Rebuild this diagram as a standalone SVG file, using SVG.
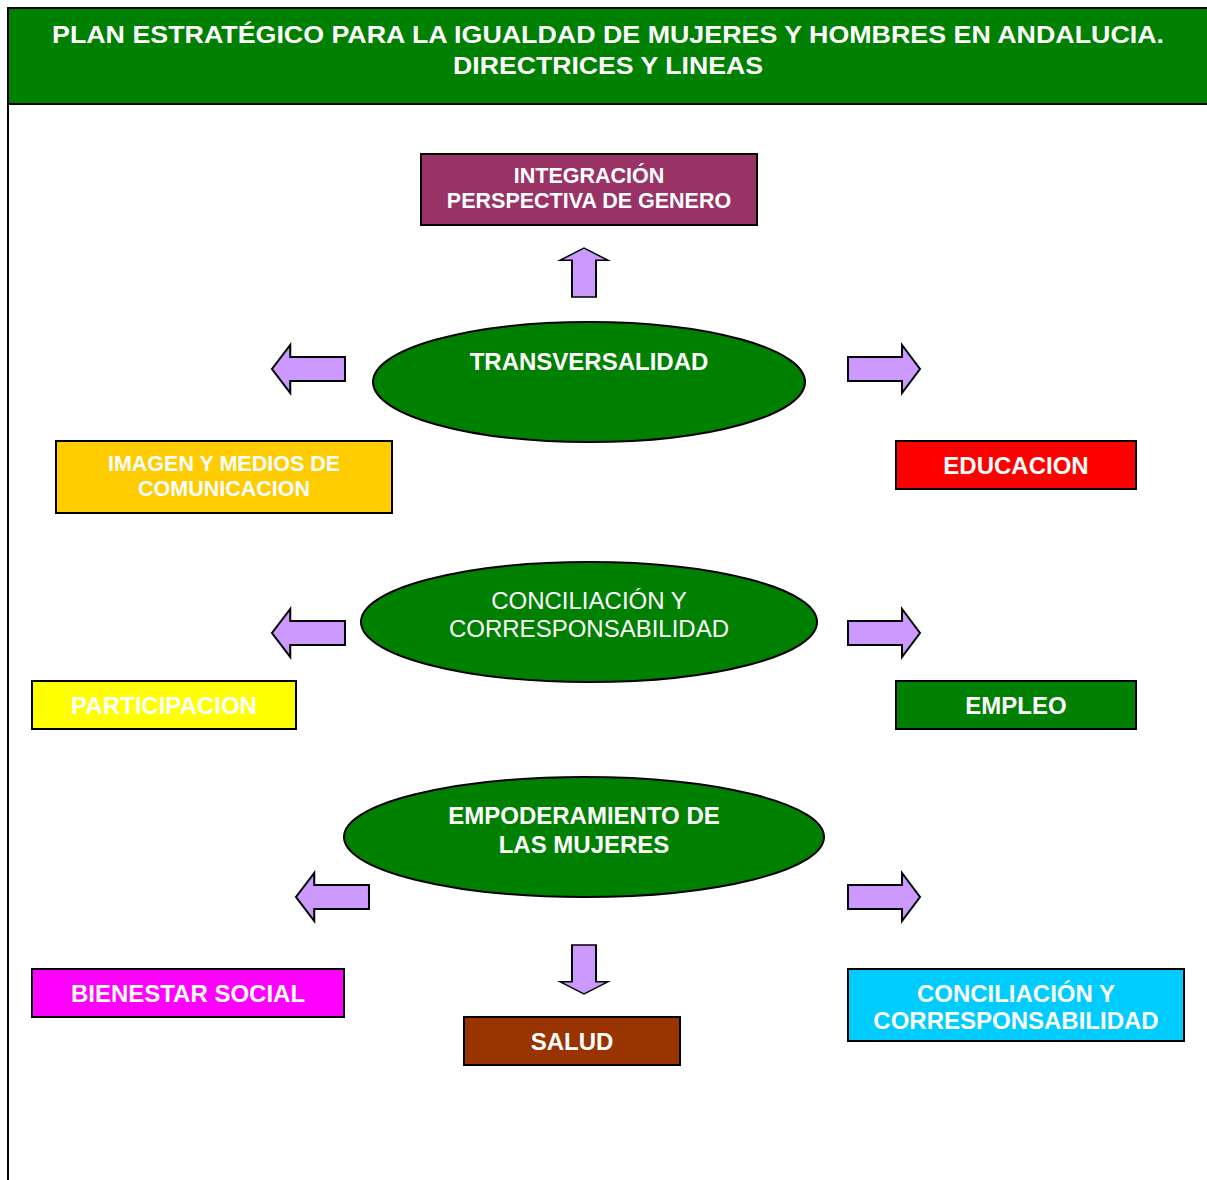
<svg xmlns="http://www.w3.org/2000/svg" width="1207" height="1180" viewBox="0 0 1207 1180">
<defs>
<style>
text{font-family:"Liberation Sans",Arial,sans-serif;fill:#fff;text-anchor:middle}
.b{font-weight:bold}
.box{stroke:#000;stroke-width:2}
.ell{fill:#008000;stroke:#000;stroke-width:2}
.arr{fill:#CC99FF;stroke:#000;stroke-width:2;stroke-linejoin:miter}
</style>
<path id="arrR" d="M0,-12 H54 V-24 L72,0 L54,24 V12 H0 Z"/>
</defs>
<rect width="1207" height="1180" fill="#fff"/>
<g id="header">
<rect x="8" y="8" width="1200" height="96" fill="#008000" stroke="#000" stroke-width="2"/>
<line x1="8" y1="104" x2="8" y2="1180" stroke="#000" stroke-width="2"/>
<text class="b" x="608" y="43" font-size="24" textLength="1112" lengthAdjust="spacingAndGlyphs">PLAN ESTRATÉGICO PARA LA IGUALDAD DE MUJERES Y HOMBRES EN ANDALUCIA.</text>
<text class="b" x="608" y="74" font-size="24" textLength="310" lengthAdjust="spacingAndGlyphs">DIRECTRICES Y LINEAS</text>
</g>
<g id="connectors">
<use href="#arrR" class="arr" transform="translate(584,297) rotate(-90) scale(0.68,1)"/>
<use href="#arrR" class="arr" transform="translate(345,369) rotate(180) scale(1.014,1)"/>
<use href="#arrR" class="arr" transform="translate(848,369)"/>
<use href="#arrR" class="arr" transform="translate(345,633) rotate(180) scale(1.014,1)"/>
<use href="#arrR" class="arr" transform="translate(848,633)"/>
<use href="#arrR" class="arr" transform="translate(369,897) rotate(180) scale(1.014,1)"/>
<use href="#arrR" class="arr" transform="translate(848,897)"/>
<use href="#arrR" class="arr" transform="translate(584,945) rotate(90) scale(0.68,1)"/>
</g>
<g id="n-integracion">
<rect class="box" x="421" y="154" width="336" height="71" fill="#993366"/>
<text class="b" x="589" y="183" font-size="21.5">INTEGRACIÓN</text>
<text class="b" x="589" y="208" font-size="21.5">PERSPECTIVA DE GENERO</text>
</g>
<g id="n-transversalidad">
<ellipse class="ell" cx="589" cy="382" rx="216" ry="60"/>
<text class="b" x="589" y="370" font-size="24">TRANSVERSALIDAD</text>
</g>
<g id="n-imagen">
<rect class="box" x="56" y="441" width="336" height="72" fill="#FFCC00"/>
<text class="b" x="224" y="471" font-size="21.5">IMAGEN Y MEDIOS DE</text>
<text class="b" x="224" y="496" font-size="21.5">COMUNICACION</text>
</g>
<g id="n-educacion">
<rect class="box" x="896" y="441" width="240" height="48" fill="#FF0000"/>
<text class="b" x="1016" y="474" font-size="24">EDUCACION</text>
</g>
<g id="n-conciliacion">
<ellipse class="ell" cx="589" cy="622" rx="228" ry="60"/>
<text x="589" y="609" font-size="24">CONCILIACIÓN Y</text>
<text x="589" y="637" font-size="24">CORRESPONSABILIDAD</text>
</g>
<g id="n-participacion">
<rect class="box" x="32" y="681" width="264" height="48" fill="#FFFF00"/>
<text class="b" x="164" y="714" font-size="24">PARTICIPACION</text>
</g>
<g id="n-empleo">
<rect class="box" x="896" y="681" width="240" height="48" fill="#008000"/>
<text class="b" x="1016" y="714" font-size="24">EMPLEO</text>
</g>
<g id="n-empoderamiento">
<ellipse class="ell" cx="584" cy="837" rx="240" ry="60"/>
<text class="b" x="584" y="824" font-size="24">EMPODERAMIENTO DE</text>
<text class="b" x="584" y="853" font-size="24">LAS MUJERES</text>
</g>
<g id="n-bienestar">
<rect class="box" x="32" y="969" width="312" height="48" fill="#FF00FF"/>
<text class="b" x="188" y="1002" font-size="24">BIENESTAR SOCIAL</text>
</g>
<g id="n-salud">
<rect class="box" x="464" y="1017" width="216" height="48" fill="#993300"/>
<text class="b" x="572" y="1050" font-size="24">SALUD</text>
</g>
<g id="n-conciliacion2">
<rect class="box" x="848" y="969" width="336" height="72" fill="#00CCFF"/>
<text class="b" x="1016" y="1002" font-size="24">CONCILIACIÓN Y</text>
<text class="b" x="1016" y="1029" font-size="24">CORRESPONSABILIDAD</text>
</g>
</svg>
